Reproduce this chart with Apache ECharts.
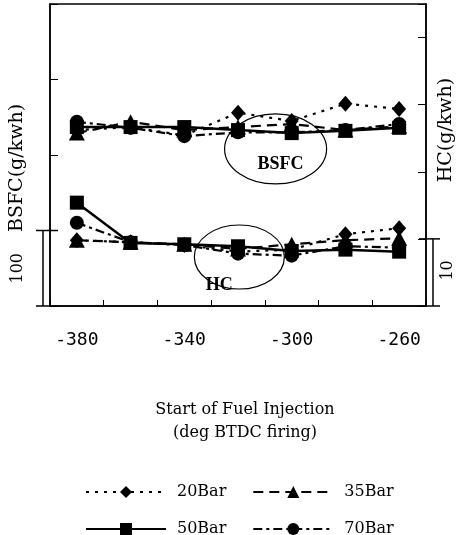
<!DOCTYPE html>
<html lang="en">
<head>
    <meta charset="UTF-8">
    <title>BSFC / HC</title>
	<style>
	html, body { margin: 0; padding: 0; background: #fff; }
	#chart1 { width: 463px; height: 535px; }
	</style>
</head>
<body>
	<div id="chart1"></div>
	<script src="https://cdn.jsdelivr.net/npm/echarts@6/dist/echarts.min.js"></script>
	<script>
	// start of injection (deg BTDC firing)
	var injection = [-380, -360, -340, -320, -300, -280, -260];
	var xLabels = [-380, -340, -300, -260];
	var pressures = ['20Bar', '35Bar', '50Bar', '70Bar'];

	// BSFC (g/kwh), left axis
	var bsfc20 = [233, 237, 226, 256, 245, 268, 261];
	var bsfc35 = [229, 244, 233, 237, 241, 233, 238];
	var bsfc50 = [237, 237, 237, 233, 229, 232, 236];
	var bsfc70 = [244, 236, 225, 230, 230, 233, 241];

	// HC (g/kwh), right axis
	var hc20 = [9.8, 9.5, 9.1, 8.1, 8.4, 10.7, 11.6];
	var hc35 = [9.8, 9.5, 9.2, 8.5, 9.2, 9.8, 10.1];
	var hc50 = [15.4, 9.4, 9.2, 8.9, 8.2, 8.4, 8.1];
	var hc70 = [12.4, 9.5, 9.1, 7.8, 7.5, 8.9, 8.7];

	var bsfcData = [bsfc20, bsfc35, bsfc50, bsfc70];
	var hcData = [hc20, hc35, hc50, hc70];

	var symbols = ['diamond', 'triangle', 'rect', 'circle'];
	var symbolSizes = [[14, 16], [16, 15], 14, 14];
	var lineTypes = [[3, 6], [10, 6], 'solid', [9, 4, 3, 4]];
	var lineWidths = [2.2, 2.2, 2.5, 2.2];

	var myChart = echarts.init(document.getElementById('chart1'));

	function pairs(arr) {
		return injection.map(function (x, i) { return [x, arr[i]]; });
	}

	var series = [];
	pressures.forEach(function (p, k) {
		[bsfcData[k], hcData[k]].forEach(function (arr, axis) {
			series.push({
				name: p,
				type: 'line',
				yAxisIndex: axis,
				data: pairs(arr),
				symbol: symbols[k],
				symbolSize: symbolSizes[k],
				itemStyle: { color: '#000' },
				lineStyle: { color: '#000', width: lineWidths[k], type: lineTypes[k] },
				animation: false
			});
		});
	});

	var serif = 'DejaVu Serif';

	myChart.setOption({
		backgroundColor: '#fff',
		grid: { left: 50, right: 37, top: 4, bottom: 229, show: true, borderColor: '#000', borderWidth: 1.5 },
		xAxis: [
			{
				type: 'value', min: -390, max: -250, interval: 10,
				axisLine: { lineStyle: { color: '#000', width: 1.5 } },
				axisTick: { show: false },
				splitLine: { show: false },
				axisLabel: {
					margin: 25, color: '#000', fontFamily: 'DejaVu Sans Mono', fontSize: 18,
					formatter: function (v) { return xLabels.indexOf(v) >= 0 ? String(v) : ''; }
				},
				name: 'Start of Fuel Injection\n(deg BTDC firing)',
				nameLocation: 'middle', nameGap: 92,
				nameTextStyle: { color: '#000', fontFamily: serif, fontSize: 16, lineHeight: 23, padding: [0, 0, 0, 14] }
			},
			{
				type: 'value', min: -390, max: -250, interval: 20, position: 'bottom',
				axisLine: { show: false },
				axisTick: { inside: true, length: 6, lineStyle: { color: '#000' } },
				axisLabel: { show: false },
				splitLine: { show: false }
			}
		],
		yAxis: [
			{
				type: 'value', min: 0, max: 400, interval: 100, position: 'left',
				axisLine: { show: true, lineStyle: { color: '#000', width: 1.5 } },
				axisTick: { show: true, inside: true, length: 8, lineStyle: { color: '#000' } },
				axisLabel: { show: false },
				splitLine: { show: false }
			},
			{
				type: 'value', min: 0, max: 45, interval: 10, position: 'right',
				axisLine: { show: true, lineStyle: { color: '#000', width: 1.5 } },
				axisTick: { show: true, inside: true, length: 8, lineStyle: { color: '#000' } },
				axisLabel: { show: false },
				splitLine: { show: false }
			}
		],
		legend: [
			{
				data: ['20Bar', '35Bar'], left: 80, top: 479, itemWidth: 80, itemHeight: 15, itemGap: 26,
				textStyle: { color: '#000', fontFamily: serif, fontSize: 16, padding: [0, 0, 0, 6] },
				selectedMode: false
			},
			{
				data: ['50Bar', '70Bar'], left: 80, top: 516, itemWidth: 80, itemHeight: 15, itemGap: 26,
				textStyle: { color: '#000', fontFamily: serif, fontSize: 16, padding: [0, 0, 0, 6] },
				selectedMode: false
			}
		],
		series: series
	});

	// brackets, ellipses and labels placed through the axis scales
	function px(x, y, axis) {
		return myChart.convertToPixel({ xAxisIndex: 0, yAxisIndex: axis }, [x, y]);
	}
	var l0 = px(-390, 0, 0), l1 = px(-390, 100, 0);
	var r0 = px(-250, 0, 1), r1 = px(-250, 10, 1);
	var eB = px(-306, 208, 0);
	var eH = px(-319.5, 7.3, 1);
	var lineSt = { stroke: '#000', lineWidth: 1.5 };
	var labelFont = '19px "DejaVu Serif"';

	myChart.setOption({
		graphic: [
			{ type: 'text', x: 17, y: 168, rotation: Math.PI / 2,
				style: { text: 'BSFC(g/kwh)', fill: '#000', font: labelFont, align: 'center', verticalAlign: 'middle' } },
			{ type: 'text', x: 446, y: 130, rotation: Math.PI / 2,
				style: { text: 'HC(g/kwh)', fill: '#000', font: labelFont, align: 'center', verticalAlign: 'middle' } },
			{ type: 'line', shape: { x1: l0[0] - 7, y1: l0[1], x2: l0[0] - 7, y2: l1[1] }, style: lineSt },
			{ type: 'line', shape: { x1: l0[0] - 14, y1: l1[1], x2: l0[0] + 8, y2: l1[1] }, style: lineSt },
			{ type: 'line', shape: { x1: l0[0] - 14, y1: l0[1], x2: l0[0], y2: l0[1] }, style: lineSt },
			{ type: 'text', x: 18, y: (l0[1] + l1[1]) / 2, rotation: Math.PI / 2,
				style: { text: '100', fill: '#000', font: '16px "DejaVu Serif"', align: 'center', verticalAlign: 'middle' } },
			{ type: 'line', shape: { x1: r0[0] + 7, y1: r0[1], x2: r0[0] + 7, y2: r1[1] }, style: lineSt },
			{ type: 'line', shape: { x1: r0[0] - 7, y1: r1[1], x2: r0[0] + 14, y2: r1[1] }, style: lineSt },
			{ type: 'line', shape: { x1: r0[0], y1: r0[1], x2: r0[0] + 14, y2: r0[1] }, style: lineSt },
			{ type: 'text', x: 448, y: (r0[1] + r1[1]) / 2 - 2, rotation: Math.PI / 2,
				style: { text: '10', fill: '#000', font: '16px "DejaVu Serif"', align: 'center', verticalAlign: 'middle' } },
			{ type: 'ellipse', shape: { cx: eB[0], cy: eB[1], rx: 51, ry: 35 }, style: { fill: 'none', stroke: '#000', lineWidth: 1.2 }, z: 10 },
			{ type: 'text', x: eB[0] + 5, y: eB[1] + 15, z: 11,
				style: { text: 'BSFC', fill: '#000', font: 'bold 18px "Liberation Serif"', align: 'center', verticalAlign: 'middle' } },
			{ type: 'ellipse', shape: { cx: eH[0], cy: eH[1], rx: 45, ry: 32 }, style: { fill: 'none', stroke: '#000', lineWidth: 1.2 }, z: 10 },
			{ type: 'text', x: eH[0] - 20, y: eH[1] + 28, z: 11,
				style: { text: 'HC', fill: '#000', font: 'bold 18px "Liberation Serif"', align: 'center', verticalAlign: 'middle' } }
		]
	});
	</script>
</body>
</html>
